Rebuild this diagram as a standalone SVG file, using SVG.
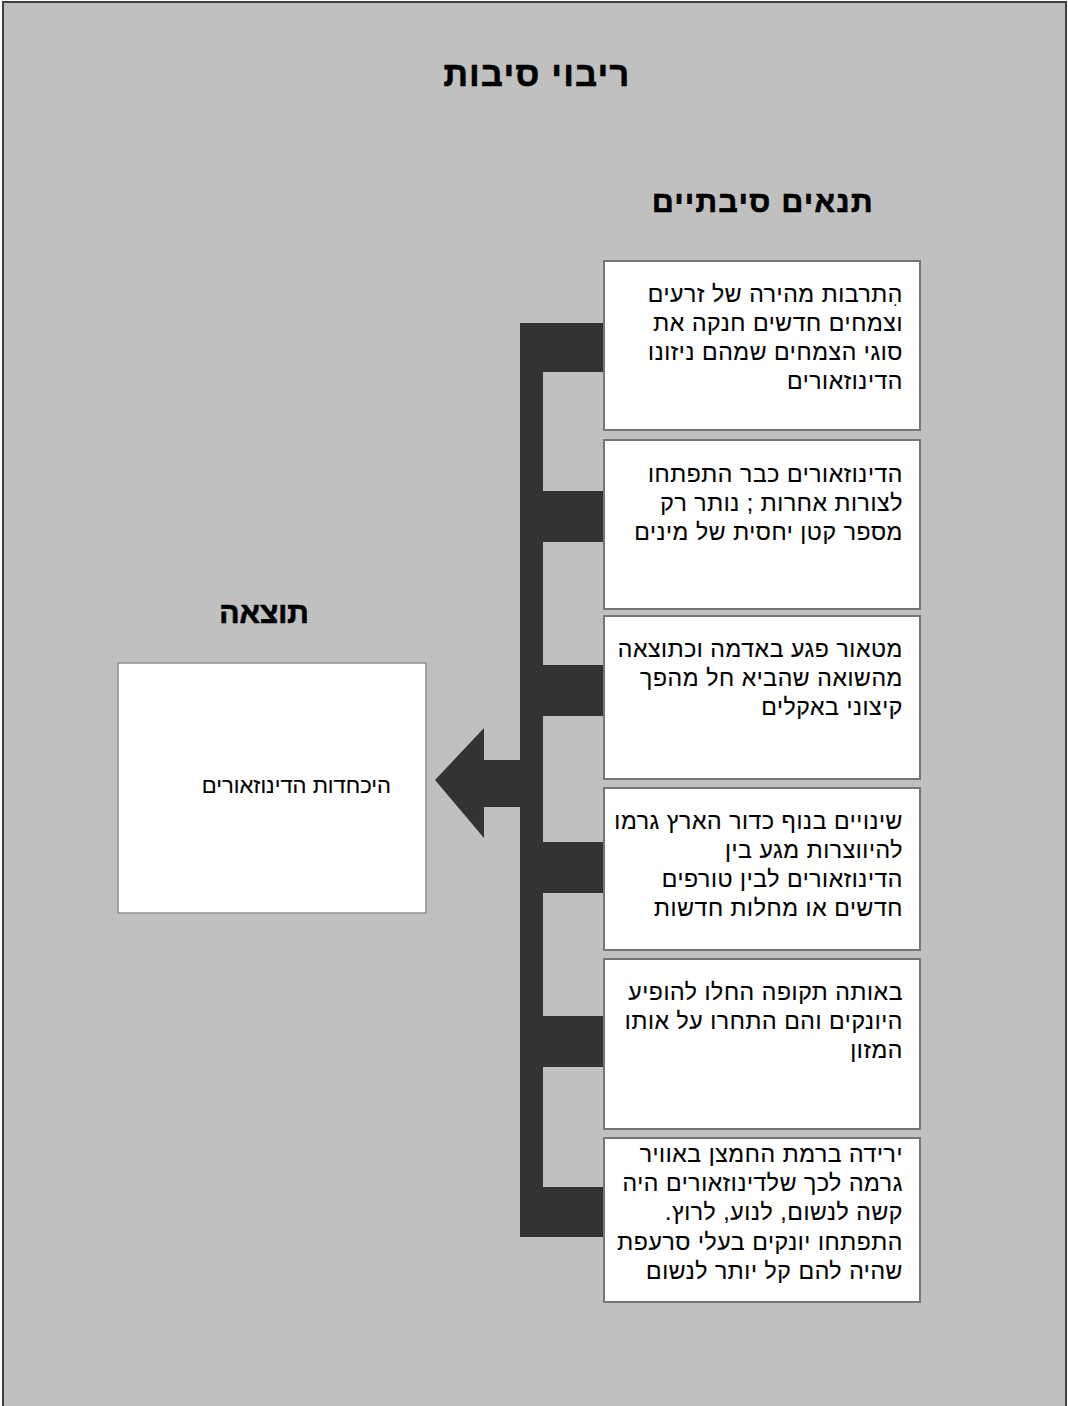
<svg xmlns="http://www.w3.org/2000/svg" width="1068" height="1406" viewBox="0 0 1068 1406">
<style>
.bg{fill:#c0c0c0;stroke:#404040;stroke-width:2}
.box{fill:#ffffff;stroke:#767676;stroke-width:2}
.rbox{fill:#ffffff;stroke:#909090;stroke-width:1.5}
.bar{fill:#333333}
.t{font-family:"Liberation Sans","DejaVu Sans",sans-serif;font-size:23px;letter-spacing:0.6px;fill:#000;stroke:#000;stroke-width:0.15;direction:rtl;unicode-bidi:embed}
.h{font-family:"Liberation Sans","DejaVu Sans",sans-serif;font-weight:bold;fill:#000;stroke:#000;stroke-width:0.7;direction:rtl;unicode-bidi:embed}
</style>
<rect class="bg" x="3" y="2" width="1063" height="1420"/>
<text class="h" x="537" y="86" font-size="34" letter-spacing="1.5" text-anchor="middle">ריבוי סיבות</text>
<text class="h" x="763" y="212" font-size="30" letter-spacing="1.5" text-anchor="middle">תנאים סיבתיים</text>
<text class="h" x="264" y="623" font-size="30" text-anchor="middle">תוצאה</text>
<g id="connectors">
<rect class="bar" x="520" y="323" width="23" height="914"/>
<rect class="bar" x="520" y="323" width="84" height="49"/>
<rect class="bar" x="520" y="491" width="84" height="51"/>
<rect class="bar" x="520" y="665" width="84" height="51"/>
<rect class="bar" x="520" y="842" width="84" height="51"/>
<rect class="bar" x="520" y="1016" width="84" height="51"/>
<rect class="bar" x="520" y="1187" width="84" height="50"/>
<polygon class="bar" points="435,780 484,728 484,760 521,760 521,807 484,807 484,838"/>
</g>
<g id="result">
<rect class="rbox" x="118" y="663" width="308" height="250"/>
<text class="t" x="391" y="793" text-anchor="start" style="font-size:22px;letter-spacing:0">היכחדות הדינוזאורים</text>
</g>
<g id="cause1">
<rect class="box" x="604" y="261" width="316" height="169"/>
<text class="t" x="903" text-anchor="start"><tspan x="903" y="302">הִתרבות מהירה של זרעים</tspan><tspan x="903" y="331">וצמחים חדשים חנקה את</tspan><tspan x="903" y="360">סוגי הצמחים שמהם ניזונו</tspan><tspan x="903" y="389">הדינוזאורים</tspan></text>
</g>
<g id="cause2">
<rect class="box" x="604" y="440" width="316" height="169"/>
<text class="t" x="903" text-anchor="start"><tspan x="903" y="482">הדינוזאורים כבר התפתחו</tspan><tspan x="903" y="511">לצורות אחרות ; נותר רק</tspan><tspan x="903" y="540">מספר קטן יחסית של מינים</tspan></text>
</g>
<g id="cause3">
<rect class="box" x="604" y="616" width="316" height="163"/>
<text class="t" x="903" text-anchor="start"><tspan x="903" y="657">מטאור פגע באדמה וכתוצאה</tspan><tspan x="903" y="686">מהשואה שהביא חל מהפך</tspan><tspan x="903" y="715">קיצוני באקלים</tspan></text>
</g>
<g id="cause4">
<rect class="box" x="604" y="788" width="316" height="162"/>
<text class="t" x="903" text-anchor="start"><tspan x="903" y="829">שינויים בנוף כדור הארץ גרמו</tspan><tspan x="903" y="858">להיווצרות מגע בין</tspan><tspan x="903" y="887">הדינוזאורים לבין טורפים</tspan><tspan x="903" y="916">חדשים או מחלות חדשות</tspan></text>
</g>
<g id="cause5">
<rect class="box" x="604" y="959" width="316" height="170"/>
<text class="t" x="903" text-anchor="start"><tspan x="903" y="1000">באותה תקופה החלו להופיע</tspan><tspan x="903" y="1029">היונקים והם התחרו על אותו</tspan><tspan x="903" y="1058">המזון</tspan></text>
</g>
<g id="cause6">
<rect class="box" x="604" y="1138" width="316" height="164"/>
<text class="t" x="903" text-anchor="start"><tspan x="903" y="1162">ירידה ברמת החמצן באוויר</tspan><tspan x="903" y="1191">גרמה לכך שלדינוזאורים היה</tspan><tspan x="903" y="1220">קשה לנשום, לנוע, לרוץ.</tspan><tspan x="903" y="1250">התפתחו יונקים בעלי סרעפת</tspan><tspan x="903" y="1279">שהיה להם קל יותר לנשום</tspan></text>
</g>
</svg>
